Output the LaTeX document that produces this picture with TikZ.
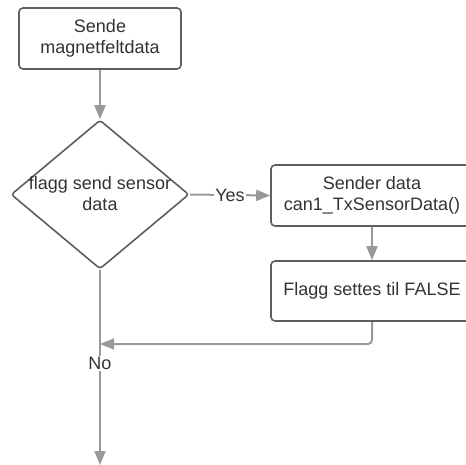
\documentclass[tikz,border=0pt]{standalone}
\usepackage{fontspec}
\setmainfont{Liberation Sans}
\usetikzlibrary{shapes.geometric,arrows.meta}
\definecolor{boxline}{HTML}{5E5E5E}
\definecolor{arrowline}{HTML}{999999}
\definecolor{txt}{HTML}{333333}
\begin{document}
\begin{tikzpicture}[x=1pt,y=-1pt,
  box/.style={draw=boxline,line width=1.6pt,rounded corners=4pt,fill=white,text=txt,
    font=\fontsize{18}{21}\selectfont,align=center,inner sep=0pt},
  decision/.style={diamond,draw=boxline,line width=1.6pt,rounded corners=3pt,inner sep=0pt},
  conn/.style={draw=arrowline,line width=2pt,-{Triangle[length=14pt,width=11pt]}},
  lbl/.style={fill=white,text=txt,font=\fontsize{18}{21}\selectfont,inner sep=1pt},
  dtext/.style={text=txt,font=\fontsize{18}{21}\selectfont,align=center,inner sep=0pt}]
\useasboundingbox (0,0) rectangle (466,465);
\begin{scope}
\clip (0,0) rectangle (466,465);
\node[box,minimum width=162pt,minimum height=61pt] (start) at (100,38.5) {Sende\\magnetfeltdata};
\node[decision,minimum width=178pt,minimum height=149pt] (dec) at (100,194.5) {};
\node[dtext] (dectext) at (100,194) {flagg send sensor\\data};
\node[box,minimum width=202pt,minimum height=61pt] (send) at (372,195.5) {Sender data\\can1\_TxSensorData()};
\node[box,minimum width=202pt,minimum height=60pt] (flag) at (372,291) {Flagg settes til FALSE};
\coordinate (merge) at (100,344);
\coordinate (end) at (100,465);
\draw[conn] (start.south) -- (dec.north);
\draw[conn] (dec.east) -- node[lbl] (yes) {Yes} (send.west);
\draw[conn] (send.south) -- (flag.north);
\draw[conn,rounded corners=4pt] (flag.south) |- (merge);
\draw[conn] (dec.south) -- node[lbl,pos=0.48] (no) {No} (end);
\end{scope}
\end{tikzpicture}
\end{document}
